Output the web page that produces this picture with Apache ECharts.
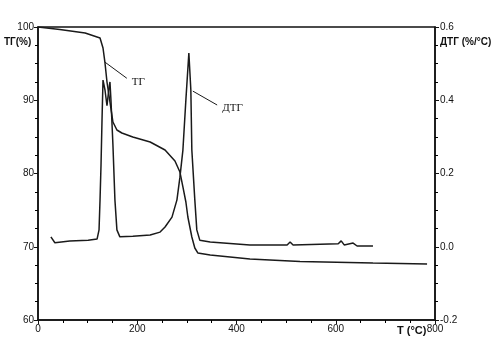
<!DOCTYPE html>
<html>
<head>
<meta charset="utf-8">
<script src="https://cdn.jsdelivr.net/npm/echarts@6/dist/echarts.min.js"></script>
<style>
  html, body { margin: 0; padding: 0; background: #fff; }
</style>
</head>
<body>
<div id="chart" style="width:499px;height:360px;"></div>
<script>
// ТГ curve: temperature (°C) -> mass (%)
const tgTemp = [0, 44, 95, 125, 131, 135, 139, 145, 151, 159, 169, 191, 226, 256, 276, 286, 292, 298, 302, 310, 316, 322, 347, 427, 528, 675, 784]
const tgMass = [100, 99.66, 99.18, 98.5, 97.13, 95.09, 92.49, 89.76, 87.03, 85.94, 85.53, 84.98, 84.3, 83.21, 81.71, 80.2, 78.16, 76.11, 74.06, 71.33, 69.83, 69.15, 68.87, 68.33, 67.99, 67.78, 67.65]

// ДТГ curve: temperature (°C) -> rate (%/°C)
const dtgTemp = [26, 34, 64, 101, 119, 123, 125, 127, 129, 131, 135, 139, 143, 145, 147, 151, 155, 159, 165, 191, 226, 246, 256, 270, 280, 286, 292, 298, 304, 308, 310, 316, 320, 326, 347, 427, 502, 508, 514, 605, 611, 617, 635, 643, 675]
const dtgRate = [0.027, 0.011, 0.016, 0.018, 0.021, 0.046, 0.128, 0.224, 0.346, 0.455, 0.428, 0.385, 0.433, 0.45, 0.401, 0.278, 0.128, 0.046, 0.027, 0.029, 0.032, 0.04, 0.054, 0.081, 0.128, 0.19, 0.264, 0.401, 0.529, 0.428, 0.264, 0.128, 0.046, 0.018, 0.013, 0.005, 0.005, 0.013, 0.005, 0.008, 0.016, 0.005, 0.01, 0.002, 0.002]

// leader lines for the curve names: [start, end] in data space
const tgPointer = [[135, 95.2], [179, 93.0]]
const dtgPointer = [[312, 0.425], [361, 0.387]]

const lineColor = '#1a1a1a'
const labelFont = '"Liberation Sans", Arial, sans-serif'

let mychart = echarts.init(document.getElementById('chart'))

let axisCommon = {
  axisLine: { show: true, onZero: false, lineStyle: { color: '#111', width: 1.5 } },
  axisTick: { show: true, length: 4, lineStyle: { color: '#111', width: 1 } },
  minorTick: { show: true, splitNumber: 4, length: 3, lineStyle: { color: '#000', width: 1 } },
  splitLine: { show: false },
  minorSplitLine: { show: false },
  axisLabel: { color: '#111', fontSize: 10, fontFamily: labelFont },
}

let option = {
  animation: false,
  grid: {
    left: 38,
    right: 64,
    top: 27,
    bottom: 40,
    show: true,
    borderColor: '#111',
    borderWidth: 1.5,
  },
  xAxis: {
    type: 'value',
    min: 0,
    max: 800,
    interval: 200,
    ...axisCommon,
    axisLabel: { ...axisCommon.axisLabel, margin: 4 },
  },
  yAxis: [
    {
      type: 'value',
      position: 'left',
      min: 60,
      max: 100,
      interval: 10,
      ...axisCommon,
      axisLabel: { ...axisCommon.axisLabel, margin: 4 },
    },
    {
      type: 'value',
      position: 'right',
      min: -0.2,
      max: 0.6,
      interval: 0.2,
      ...axisCommon,
      axisLabel: {
        ...axisCommon.axisLabel,
        margin: 5,
        formatter: (v) => v.toFixed(1),
      },
    },
  ],
  graphic: [
    {
      type: 'text',
      left: 4,
      top: 37,
      style: { text: 'ТГ(%)', fontSize: 10, fontWeight: 'bold', fontFamily: labelFont, fill: '#111' },
    },
    {
      type: 'text',
      left: 440,
      top: 37,
      style: { text: 'ДТГ (%/°C)', fontSize: 10, fontWeight: 'bold', fontFamily: labelFont, fill: '#111' },
    },
    {
      type: 'text',
      left: 397,
      top: 325,
      style: { text: 'T (°C)', fontSize: 11, fontWeight: 'bold', fontFamily: labelFont, fill: '#111' },
    },
  ],
  series: [
    {
      name: 'ТГ',
      type: 'line',
      yAxisIndex: 0,
      data: tgTemp.map((t, i) => [t, tgMass[i]]),
      symbol: 'none',
      lineStyle: { color: lineColor, width: 1.5 },
      markLine: {
        silent: true,
        symbol: 'none',
        lineStyle: { color: lineColor, width: 1, type: 'solid' },
        label: {
          position: 'end',
          distance: 6,
          formatter: 'ТГ',
          color: '#111',
          fontSize: 11,
          fontFamily: '"Liberation Serif", "DejaVu Serif", serif',
        },
        data: [[{ coord: tgPointer[0] }, { coord: tgPointer[1] }]],
      },
    },
    {
      name: 'ДТГ',
      type: 'line',
      yAxisIndex: 1,
      data: dtgTemp.map((t, i) => [t, dtgRate[i]]),
      symbol: 'none',
      lineStyle: { color: lineColor, width: 1.5 },
      markLine: {
        silent: true,
        symbol: 'none',
        lineStyle: { color: lineColor, width: 1, type: 'solid' },
        label: {
          position: 'end',
          distance: 6,
          formatter: 'ДТГ',
          color: '#111',
          fontSize: 11,
          fontFamily: '"Liberation Serif", "DejaVu Serif", serif',
        },
        data: [[{ coord: dtgPointer[0] }, { coord: dtgPointer[1] }]],
      },
    },
  ],
}

mychart.setOption(option)
window.addEventListener('resize', () => {
  mychart.resize()
})
</script>
</body>
</html>
